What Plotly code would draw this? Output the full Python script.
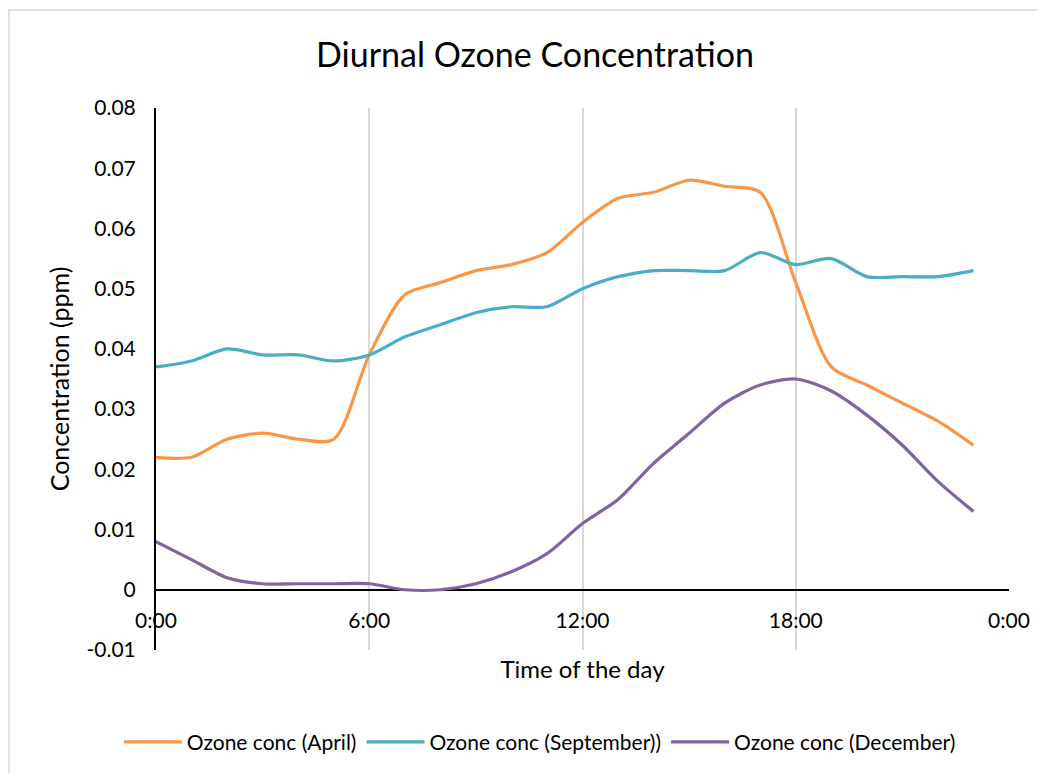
import plotly.graph_objects as go

hours = list(range(24))
x_tick_vals = [0, 6, 12, 18, 24]
x_tick_text = ["0:00", "6:00", "12:00", "18:00", "0:00"]
y_tick_vals = [-0.01, 0, 0.01, 0.02, 0.03, 0.04, 0.05, 0.06, 0.07, 0.08]
y_tick_text = ["-0.01", "0", "0.01", "0.02", "0.03", "0.04", "0.05", "0.06", "0.07", "0.08"]

april = [0.022, 0.022, 0.025, 0.026, 0.025, 0.025, 0.039, 0.049, 0.051, 0.053, 0.054, 0.056,
         0.061, 0.065, 0.066, 0.068, 0.067, 0.066, 0.051, 0.037, 0.034, 0.031, 0.028, 0.024]
september = [0.037, 0.038, 0.040, 0.039, 0.039, 0.038, 0.039, 0.042, 0.044, 0.046, 0.047, 0.047,
             0.050, 0.052, 0.053, 0.053, 0.053, 0.056, 0.054, 0.055, 0.052, 0.052, 0.052, 0.053]
december = [0.008, 0.005, 0.002, 0.001, 0.001, 0.001, 0.001, 0.000, 0.000, 0.001, 0.003, 0.006,
            0.011, 0.015, 0.021, 0.026, 0.031, 0.034, 0.035, 0.033, 0.029, 0.024, 0.018, 0.013]

names = ["Ozone conc (April)", "Ozone conc (September))", "Ozone conc (December)"]
colors = ["#F79646", "#4BACC6", "#8064A2"]

FONT = "Lato, 'Open Sans', sans-serif"

W, H = 1038, 765
L, T = 148, 100
PW, PH = 853, 542

fig = go.Figure()
for name, ys, c in zip(names, [april, september, december], colors):
    fig.add_trace(go.Scatter(x=hours, y=ys, mode="lines", name=name,
                             line=dict(color=c, width=3.2, shape="spline", smoothing=0.8)))

y_min, y_max = -0.01, 0.08
fig.update_layout(
    width=W, height=H,
    margin=dict(l=L, r=W - L - PW, t=T, b=H - T - PH, autoexpand=False),
    paper_bgcolor="white", plot_bgcolor="white",
    font=dict(family=FONT, color="#000000", size=21),
    title=dict(text="Diurnal Ozone Concentration", x=0.5077, xanchor="center",
               y=0.9386, yanchor="middle", font=dict(size=34, family=FONT)),
    showlegend=True,
    legend=dict(orientation="h", x=0.45, xanchor="center", y=-0.17, yanchor="middle",
                font=dict(size=21), itemwidth=58, tracegroupgap=0),
    xaxis=dict(range=[0, 24], tickvals=x_tick_vals, ticktext=x_tick_text,
               showgrid=True, gridcolor="#D9D9D9", gridwidth=2,
               showline=False, zeroline=False, ticks="",
               anchor="free", position=(0 - y_min) / (y_max - y_min),
               tickfont=dict(size=21), ticklabelstandoff=16,
               title=dict(text="Time of the day", font=dict(size=24), standoff=30)),
    yaxis=dict(range=[y_min, y_max], tickvals=y_tick_vals, ticktext=y_tick_text,
               showgrid=False, zeroline=True, zerolinecolor="#000000", zerolinewidth=2,
               showline=True, linecolor="#000000", linewidth=2, ticks="",
               tickfont=dict(size=21), ticklabelstandoff=14,
               title=dict(text="Concentration (ppm)", font=dict(size=25), standoff=10)),
)

# chart-area border
fig.add_shape(type="rect", xref="paper", yref="paper",
              x0=(1 - L) / PW, x1=(W + 20 - L) / PW,
              y0=(T + PH - (H + 20)) / PH, y1=(T + PH - 2) / PH,
              line=dict(color="#D9D9D9", width=1.5), fillcolor="rgba(0,0,0,0)", layer="below")

fig.write_html("out.html")
